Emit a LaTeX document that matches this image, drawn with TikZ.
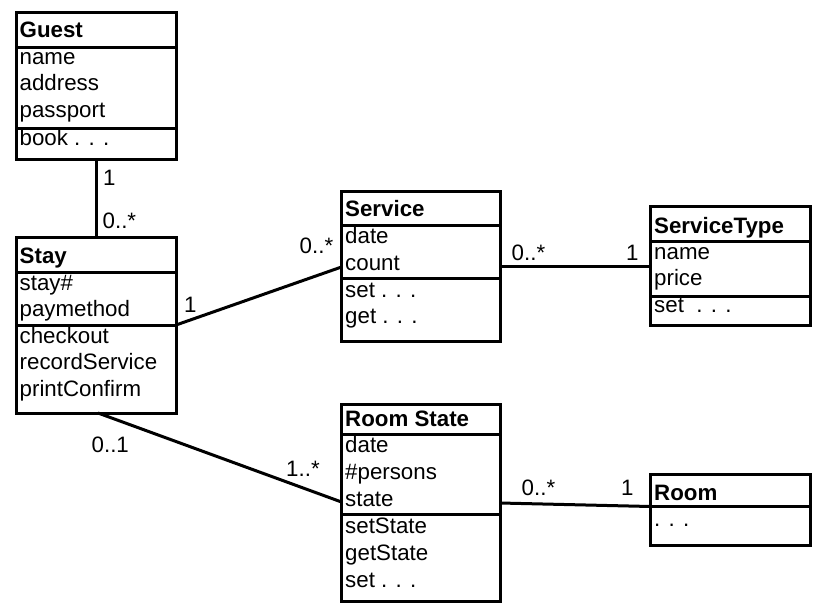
\documentclass[tikz,border=0pt]{standalone}
\usepackage{fontspec}
\setmainfont{Liberation Sans}
\begin{document}
\begin{tikzpicture}[x=1pt,y=-1pt,
  cls/.style={draw,line width=3pt,rectangle,anchor=north west,outer sep=0pt,inner sep=0pt},
  sep/.style={line width=3pt},
  conn/.style={line width=3pt},
  txt/.style={anchor=base west,inner sep=0pt,font=\fontsize{22.3}{26}\selectfont},
  mult/.style={anchor=base west,inner sep=0pt,font=\fontsize{22.3}{26}\selectfont}]
\useasboundingbox (0,0) rectangle (819,608);
\fill[white] (0,0) rectangle (819,608);

% Guest
\node[cls,minimum width=160pt,minimum height=147pt] (guest) at (16,12) {};
\draw[sep] (16,47) -- (176,47);
\draw[sep] (16,128) -- (176,128);
\node[txt] (g0) at (19.5,37) {\textbf{Guest}};
\node[txt] (g1) at (19.5,64) {name};
\node[txt] (g2) at (19.5,90.5) {address};
\node[txt] (g3) at (19.5,117.5) {passport};
\node[txt] (g4) at (19.5,145) {book . . .};

% Stay
\node[cls,minimum width=160pt,minimum height=176pt] (stay) at (16,237) {};
\draw[sep] (16,272.5) -- (176,272.5);
\draw[sep] (16,325) -- (176,325);
\node[txt] (s0) at (19.5,263) {\textbf{Stay}};
\node[txt] (s1) at (19.5,290) {stay\#};
\node[txt] (s2) at (19.5,316) {paymethod};
\node[txt] (s3) at (19.5,343) {checkout};
\node[txt] (s4) at (19.5,369.5) {recordService};
\node[txt] (s5) at (19.5,396.5) {printConfirm};

% Service
\node[cls,minimum width=158.5pt,minimum height=150pt] (service) at (341.5,191.5) {};
\draw[sep] (341.5,225) -- (500,225);
\draw[sep] (341.5,278.5) -- (500,278.5);
\node[txt] (v0) at (345,216.5) {\textbf{Service}};
\node[txt] (v1) at (345,243) {date};
\node[txt] (v2) at (345,270) {count};
\node[txt] (v3) at (345,297) {set . . .};
\node[txt] (v4) at (345,323) {get . . .};

% ServiceType
\node[cls,minimum width=159.5pt,minimum height=118.5pt] (stype) at (650.5,206.5) {};
\draw[sep] (650.5,241) -- (810,241);
\draw[sep] (650.5,296) -- (810,296);
\node[txt] (t0) at (654,233) {\textbf{ServiceType}};
\node[txt] (t1) at (654,259) {name};
\node[txt] (t2) at (654,285) {price};
\node[txt] (t3) at (654,312) {set\ \ . . .};

% Room State
\node[cls,minimum width=158.5pt,minimum height=197.5pt] (rstate) at (341.5,404) {};
\draw[sep] (341.5,434) -- (500,434);
\draw[sep] (341.5,514.5) -- (500,514.5);
\node[txt] (r0) at (345,426.5) {\textbf{Room State}};
\node[txt] (r1) at (345,452.5) {date};
\node[txt] (r2) at (345,479) {\#persons};
\node[txt] (r3) at (345,506) {state};
\node[txt] (r4) at (345,533) {setState};
\node[txt] (r5) at (345,560) {getState};
\node[txt] (r6) at (345,587.5) {set . . .};

% Room
\node[cls,minimum width=159.5pt,minimum height=71pt] (room) at (650.5,474) {};
\draw[sep] (650.5,506.5) -- (810,506.5);
\node[txt] (m0) at (654,500) {\textbf{Room}};
\node[txt] (m1) at (654,526.5) {. . .};

% connector end points
\coordinate (gs1) at (guest.south);
\coordinate (gs2) at (stay.north);
\coordinate (sv1) at (176,325);
\coordinate (sv2) at (341.5,267);
\coordinate (sr1) at (98,413);
\coordinate (sr2) at (341.5,502);
\coordinate (vt1) at (500,266);
\coordinate (vt2) at (650.5,266);
\coordinate (rm1) at (500,503);
\coordinate (rm2) at (650.5,506.5);

\draw[conn] (gs1) -- (gs2);
\draw[conn] (sv1) -- (sv2);
\draw[conn] (sr1) -- (sr2);
\draw[conn] (vt1) -- (vt2);
\draw[conn] (rm1) -- (rm2);

% multiplicities
\node[mult] (l1) at (103,185) {1};
\node[mult] (l2) at (102.5,228) {0..*};
\node[mult] (l3) at (184,312) {1};
\node[mult] (l4) at (299.5,253) {0..*};
\node[mult] (l5) at (91.5,452) {0..1};
\node[mult] (l6) at (286,476) {1..*};
\node[mult] (l7) at (511.5,260) {0..*};
\node[mult] (l8) at (626,260) {1};
\node[mult] (l9) at (521.5,495) {0..*};
\node[mult] (l10) at (621,495) {1};
\end{tikzpicture}
\end{document}
